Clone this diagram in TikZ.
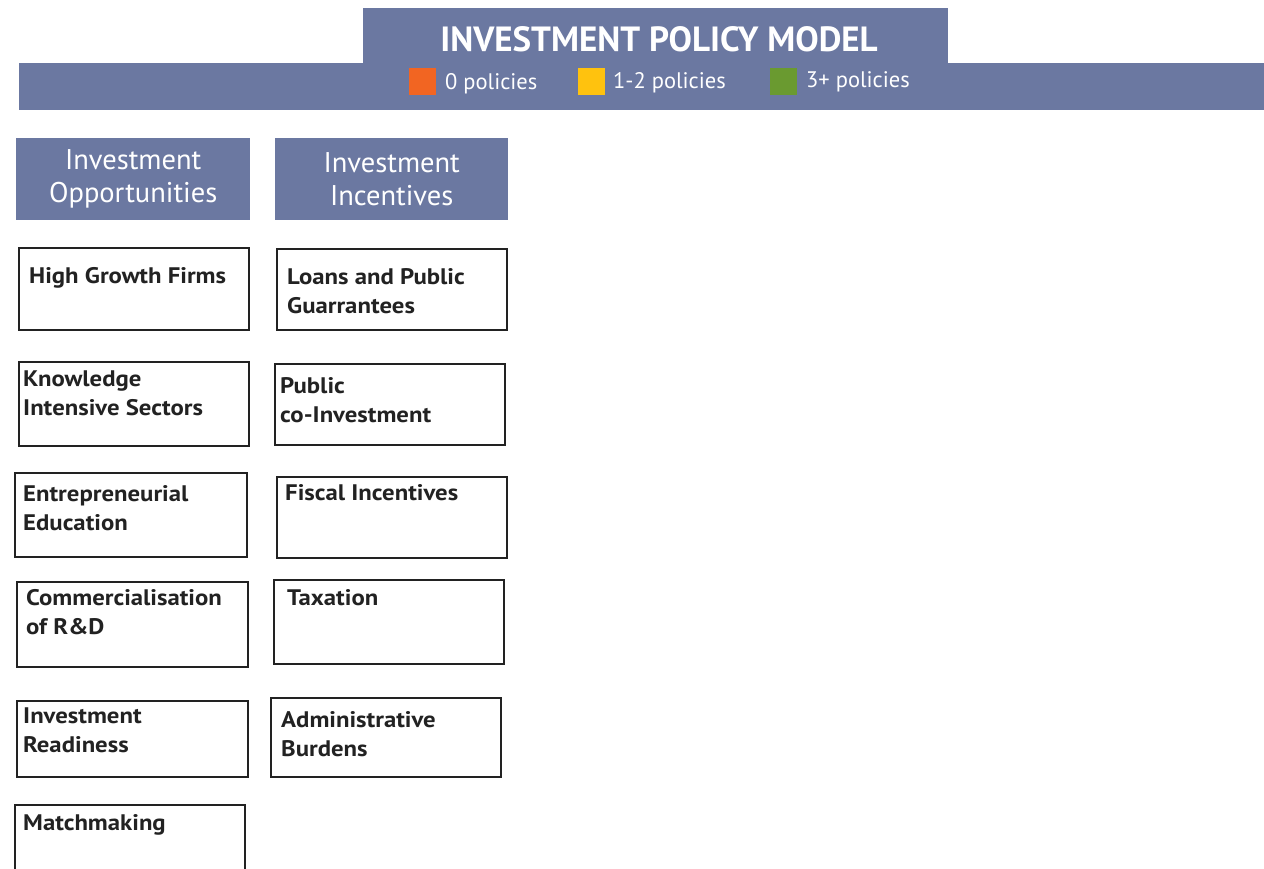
\documentclass[tikz,border=0pt]{standalone}
\usepackage{fontspec}
\setmainfont{PT Sans}
\newfontfamily\boxfont{PT Sans}[FakeStretch=1.1]
\usetikzlibrary{calc}
\definecolor{hdr}{HTML}{6B78A1}
\definecolor{lorange}{HTML}{F26522}
\definecolor{lyellow}{HTML}{FFC20E}
\definecolor{lgreen}{HTML}{6A9A30}
\definecolor{boxline}{HTML}{222222}
\tikzset{
  hdrfill/.style={fill=hdr, draw=none, inner sep=0pt, anchor=north west},
  legsq/.style={minimum size=27pt, inner sep=0pt, draw=none},
  legtxt/.style={text=white, anchor=west, inner sep=0pt, font=\fontsize{22.5}{26}\selectfont},
  colhdr/.style={fill=hdr, draw=none, inner sep=0pt, anchor=north west, text=white, align=center,
     font=\fontsize{28.5}{33}\selectfont},
  pbox/.style={draw=boxline, line width=2.4pt, inner sep=0pt, anchor=north west},
  ptext/.style={anchor=north west, inner sep=0pt, align=left, text=boxline,
     font=\boxfont\fontsize{22.5}{29}\selectfont\bfseries, yshift=-2pt},
}
\begin{document}
\begin{tikzpicture}[x=1pt,y=-1pt]
\useasboundingbox (0,0) rectangle (1264,869);
% header
\node[hdrfill, minimum width=585pt, minimum height=56pt] (tab) at (363,8) {};
\node[hdrfill, minimum width=1245pt, minimum height=47pt] (bar) at (19,63) {};
\node[text=white, inner sep=0pt, font=\fontsize{35}{38}\selectfont\bfseries] (title) at (659,39) {INVESTMENT POLICY MODEL};
\node[legsq, fill=lorange] (sq0) at (422,81.5) {};
\node[legtxt] (t0) at (445,84) {0 policies};
\node[legsq, fill=lyellow] (sq1) at (591.5,81.5) {};
\node[legtxt] (t1) at (613,83) {1-2 policies};
\node[legsq, fill=lgreen] (sq2) at (783.5,81.5) {};
\node[legtxt] (t2) at (806,82) {3+ policies};
% column headers
\node[colhdr, minimum width=234pt, minimum height=82pt] (hopp) at (16,138) {Investment\\Opportunities};
\node[colhdr, minimum width=233pt, minimum height=82pt] (hinc) at (275,138) {Investment\\Incentives};
% left column boxes
\node[pbox, minimum width=230pt, minimum height=82pt] (b1) at (18,247) {};
\node[ptext] (b1t) at (29,265) {High Growth Firms};
\node[pbox, minimum width=230pt, minimum height=84pt] (b2) at (18,361) {};
\node[ptext] (b2t) at (23,369) {Knowledge\\Intensive Sectors};
\node[pbox, minimum width=232pt, minimum height=84pt] (b3) at (14,472) {};
\node[ptext] (b3t) at (23,483) {Entrepreneurial\\Education};
\node[pbox, minimum width=231pt, minimum height=85pt] (b4) at (16,581) {};
\node[ptext] (b4t) at (26,587) {Commercialisation\\of R\&D};
\node[pbox, minimum width=231pt, minimum height=76pt] (b5) at (16,700) {};
\node[ptext] (b5t) at (23,706) {Investment\\Readiness};
\node[pbox, minimum width=230pt, minimum height=80pt] (b6) at (14,804) {};
\node[ptext] (b6t) at (23,812) {Matchmaking};
% right column boxes
\node[pbox, minimum width=230pt, minimum height=81pt] (c1) at (276,248) {};
\node[ptext] (c1t) at (287,266) {Loans and Public\\Guarrantees};
\node[pbox, minimum width=230pt, minimum height=81pt] (c2) at (274,363) {};
\node[ptext] (c2t) at (280,375) {Public\\co-Investment};
\node[pbox, minimum width=230pt, minimum height=81pt] (c3) at (276,476) {};
\node[ptext] (c3t) at (285,482) {Fiscal Incentives};
\node[pbox, minimum width=230pt, minimum height=84pt] (c4) at (273,579) {};
\node[ptext] (c4t) at (287,587) {Taxation};
\node[pbox, minimum width=230pt, minimum height=79pt] (c5) at (270,697) {};
\node[ptext] (c5t) at (281,709) {Administrative\\Burdens};
\end{tikzpicture}
\end{document}
